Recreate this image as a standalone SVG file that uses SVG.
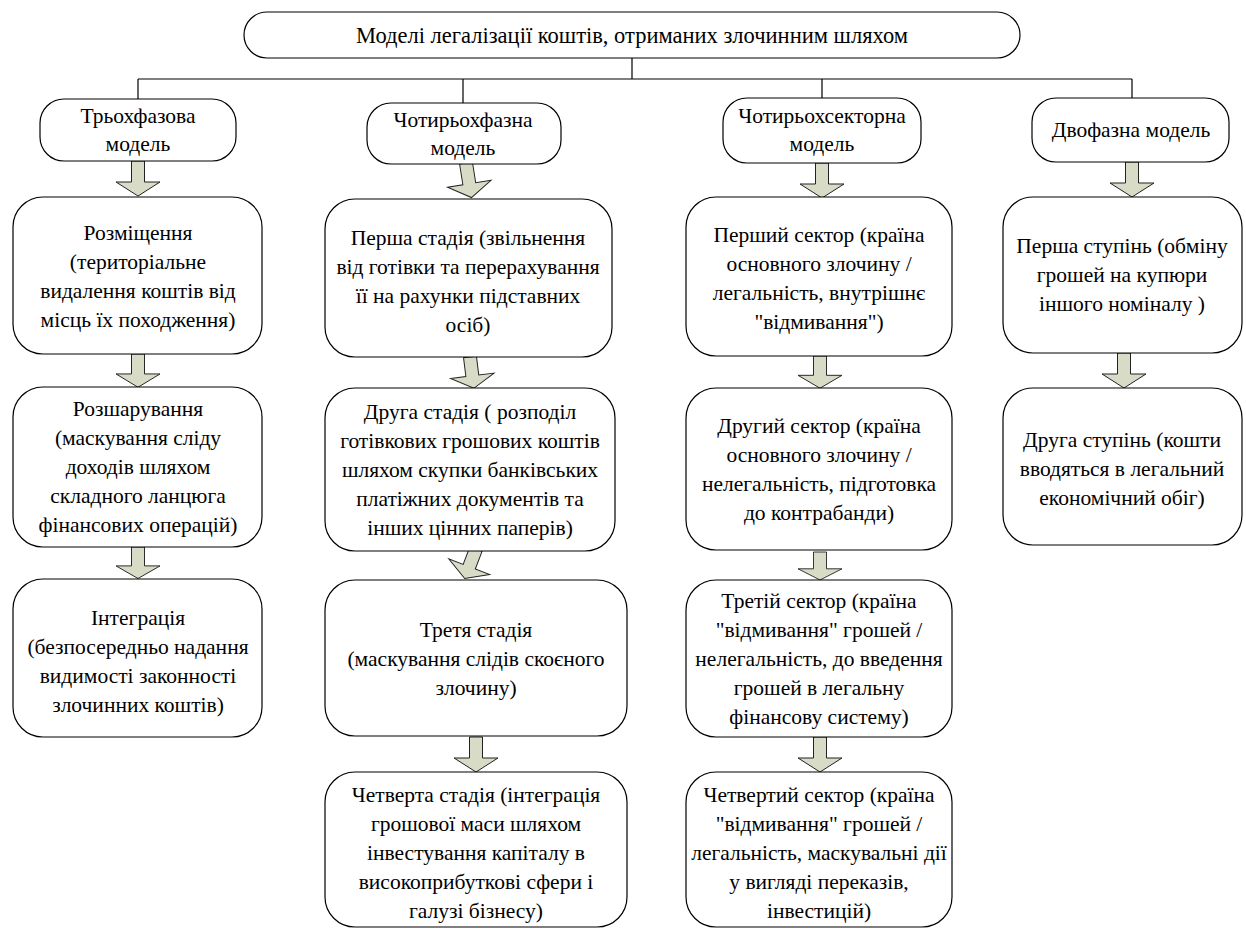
<svg xmlns="http://www.w3.org/2000/svg" width="1246" height="929" viewBox="0 0 1246 929" font-family="Liberation Serif, Times New Roman, serif">
<style>
.box{fill:#fff;stroke:#000;stroke-width:1.2}
text{font-size:21.5px;fill:#000;text-anchor:middle}
.title{font-size:22.5px}
.ln{fill:none;stroke:#000;stroke-width:1.2}
.arr{fill:#d8dcc6;stroke:#222;stroke-width:1}
</style>
<defs>
<path id="a" class="arr" d="M-6.5,0 H6.5 V21 H22 L0,35 L-22,21 H-6.5 Z"/>
</defs>
<rect width="1246" height="929" fill="#fff"/>
<g id="connectors">
<path class="ln" d="M632,58 V79 M138,79 H1132 M138,79 V99 M463,79 V103 M822,79 V98 M1132,79 V98"/>
<use href="#a" transform="translate(138,161)"/>
<use href="#a" transform="translate(466,163) rotate(-9)"/>
<use href="#a" transform="translate(822,163)"/>
<use href="#a" transform="translate(1132,162)"/>
<use href="#a" transform="translate(138,354) scale(1,0.95)"/>
<use href="#a" transform="translate(470,357) rotate(-7) scale(1,0.9)"/>
<use href="#a" transform="translate(820,356) scale(1,0.92)"/>
<use href="#a" transform="translate(1124,353) scale(1,1.0)"/>
<use href="#a" transform="translate(138,547) scale(1,0.9)"/>
<use href="#a" transform="translate(476,549) rotate(21) scale(1,0.9)"/>
<use href="#a" transform="translate(820,552) scale(1,0.8)"/>
<use href="#a" transform="translate(476,737) scale(1,1)"/>
<use href="#a" transform="translate(820,737) scale(1,1)"/>
</g>
<g id="n0"><rect class="box" x="244" y="12" width="776" height="46" rx="23"/>
<text class="title" x="632" y="43">Моделі легалізації коштів, отриманих злочинним шляхом</text></g>
<g id="n1"><rect class="box" x="40" y="99" width="196" height="62" rx="24"/>
<text x="138" y="123">Трьохфазова</text><text x="138" y="151">модель</text></g>
<g id="n2"><rect class="box" x="367" y="103" width="194" height="61" rx="24"/>
<text x="463" y="127">Чотирьохфазна</text><text x="463" y="155">модель</text></g>
<g id="n3"><rect class="box" x="723" y="98" width="198" height="65" rx="24"/>
<text x="822" y="123">Чотирьохсекторна</text><text x="822" y="151">модель</text></g>
<g id="n4"><rect class="box" x="1032" y="98" width="197" height="64" rx="24"/>
<text x="1131" y="137">Двофазна модель</text></g>

<g id="n5"><rect class="box" x="13" y="197" width="249" height="157" rx="30"/>
<text x="138" y="240">Розміщення</text>
<text x="138" y="269">(територіальне</text>
<text x="138" y="298">видалення коштів від</text>
<text x="138" y="327">місць їх походження)</text></g>
<g id="n6"><rect class="box" x="13" y="387" width="249" height="160" rx="30"/>
<text x="138" y="416">Розшарування</text>
<text x="138" y="445">(маскування сліду</text>
<text x="138" y="474">доходів шляхом</text>
<text x="138" y="503">складного ланцюга</text>
<text x="138" y="532">фінансових операцій)</text></g>
<g id="n7"><rect class="box" x="13" y="579" width="249" height="158" rx="30"/>
<text x="138" y="625">Інтеграція</text>
<text x="138" y="654">(безпосередньо надання</text>
<text x="138" y="683">видимості законності</text>
<text x="138" y="712">злочинних коштів)</text></g>

<g id="n8"><rect class="box" x="325" y="199" width="287" height="158" rx="30"/>
<text x="468" y="245">Перша стадія (звільнення</text>
<text x="468" y="274">від готівки та перерахування</text>
<text x="468" y="303">її на рахунки підставних</text>
<text x="468" y="332">осіб)</text></g>
<g id="n9"><rect class="box" x="325" y="388" width="290" height="163" rx="30"/>
<text x="470" y="419">Друга стадія ( розподіл</text>
<text x="470" y="448">готівкових грошових коштів</text>
<text x="470" y="477">шляхом скупки банківських</text>
<text x="470" y="506">платіжних документів та</text>
<text x="470" y="535">інших цінних паперів)</text></g>
<g id="n10"><rect class="box" x="325" y="580" width="302" height="156" rx="30"/>
<text x="476" y="637">Третя стадія</text>
<text x="476" y="666">(маскування слідів скоєного</text>
<text x="476" y="695">злочину)</text></g>
<g id="n11"><rect class="box" x="325" y="772" width="302" height="155" rx="30"/>
<text x="476" y="802">Четверта стадія (інтеграція</text>
<text x="476" y="831">грошової маси шляхом</text>
<text x="476" y="860">інвестування капіталу в</text>
<text x="476" y="889">високоприбуткові сфери і</text>
<text x="476" y="918">галузі бізнесу)</text></g>

<g id="n12"><rect class="box" x="686" y="197" width="266" height="159" rx="30"/>
<text x="819" y="242">Перший сектор (країна</text>
<text x="819" y="271">основного злочину /</text>
<text x="819" y="300">легальність, внутрішнє</text>
<text x="819" y="329">"відмивання")</text></g>
<g id="n13"><rect class="box" x="686" y="388" width="266" height="162" rx="30"/>
<text x="819" y="433">Другий сектор (країна</text>
<text x="819" y="462">основного злочину /</text>
<text x="819" y="491">нелегальність, підготовка</text>
<text x="819" y="520">до контрабанди)</text></g>
<g id="n14"><rect class="box" x="686" y="580" width="266" height="157" rx="30"/>
<text x="819" y="608">Третій сектор (країна</text>
<text x="819" y="637">"відмивання" грошей /</text>
<text x="819" y="666">нелегальність, до введення</text>
<text x="819" y="695">грошей в легальну</text>
<text x="819" y="724">фінансову систему)</text></g>
<g id="n15"><rect class="box" x="686" y="772" width="266" height="155" rx="30"/>
<text x="819" y="802">Четвертий сектор (країна</text>
<text x="819" y="831">"відмивання" грошей /</text>
<text x="819" y="860">легальність, маскувальні дії</text>
<text x="819" y="889">у вигляді переказів,</text>
<text x="819" y="918">інвестицій)</text></g>

<g id="n16"><rect class="box" x="1003" y="197" width="239" height="156" rx="30"/>
<text x="1122" y="253">Перша ступінь (обміну</text>
<text x="1122" y="282">грошей на купюри</text>
<text x="1122" y="311">іншого номіналу )</text></g>
<g id="n17"><rect class="box" x="1003" y="388" width="239" height="157" rx="30"/>
<text x="1122" y="447">Друга ступінь (кошти</text>
<text x="1122" y="476">вводяться в легальний</text>
<text x="1122" y="505">економічний обіг)</text></g>
</svg>
